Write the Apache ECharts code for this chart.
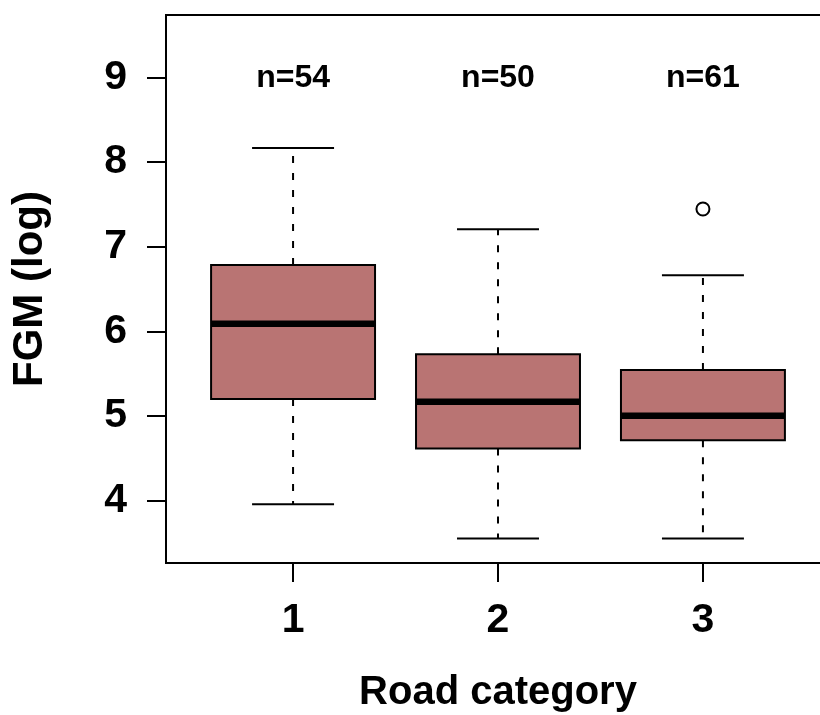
<!DOCTYPE html>
<html>
<head>
<meta charset="utf-8">
<script src="https://cdn.jsdelivr.net/npm/echarts@6/dist/echarts.min.js"></script>
<style>html,body{margin:0;padding:0;background:#fff}#main{width:820px;height:715px}</style>
</head>
<body>
<div id="main"></div>
<script>
// Data
const categories = [1, 2, 3];
const counts = [54, 50, 61];
const whiskerLow = [3.955, 3.549, 3.549];
const quartile1 = [5.198, 4.614, 4.712];
const medians = [6.089, 5.166, 5.000];
const quartile3 = [6.783, 5.727, 5.541];
const whiskerHigh = [8.168, 7.206, 6.662];
const outliers = [[3, 7.446]];
const yTicks = [4, 5, 6, 7, 8, 9];
const xTicks = [1, 2, 3];
const nLabelY = 9;

const FONT = "'Liberation Sans', Arial, Helvetica, sans-serif";
const boxData = categories.map((c, i) => [c, whiskerLow[i], quartile1[i], medians[i], quartile3[i], whiskerHigh[i]]);
const nData = categories.map((c, i) => [c, nLabelY, counts[i]]);

const chart = echarts.init(document.getElementById('main'), null, {renderer: 'canvas'});
chart.setOption({
  animation: false,
  backgroundColor: '#ffffff',
  grid: {left: 166, top: 15, width: 664, height: 548, show: true, borderColor: '#000', borderWidth: 2,
         backgroundColor: 'transparent', containLabel: false, outerBoundsMode: 'none'},
  xAxis: {
    type: 'value', min: 0.38, max: 3.62,
    name: 'Road category', nameLocation: 'middle', nameGap: 110,
    nameTextStyle: {fontFamily: FONT, fontSize: 40, fontWeight: 'bold', color: '#000'},
    axisLine: {show: true, onZero: false, lineStyle: {color: '#000', width: 2}},
    axisTick: {show: true, length: 19, lineStyle: {color: '#000', width: 2}, customValues: xTicks},
    axisLabel: {show: true, margin: 37, fontFamily: FONT, fontSize: 41, fontWeight: 'bold', color: '#000', customValues: xTicks},
    splitLine: {show: false}
  },
  yAxis: {
    type: 'value', min: 3.26, max: 9.74,
    name: 'FGM (log)', nameLocation: 'middle', nameGap: 115, nameRotate: 90,
    nameTextStyle: {fontFamily: FONT, fontSize: 42, fontWeight: 'bold', color: '#000'},
    axisLine: {show: true, onZero: false, lineStyle: {color: '#000', width: 2}},
    axisTick: {show: true, length: 19, lineStyle: {color: '#000', width: 2}, customValues: yTicks},
    axisLabel: {show: true, margin: 39, fontFamily: FONT, fontSize: 41, fontWeight: 'bold', color: '#000', customValues: yTicks},
    splitLine: {show: false}
  },
  series: [
    {
      type: 'custom',
      data: boxData,
      encode: {x: 0, y: [1, 2, 3, 4, 5]},
      renderItem: function (params, api) {
        const x = api.value(0);
        const cx = api.coord([x, 0])[0];
        const yMin = api.coord([x, api.value(1)])[1];
        const yQ1 = api.coord([x, api.value(2)])[1];
        const yMed = api.coord([x, api.value(3)])[1];
        const yQ3 = api.coord([x, api.value(4)])[1];
        const yMax = api.coord([x, api.value(5)])[1];
        const bl = api.coord([x - 0.4, 0])[0];
        const br = api.coord([x + 0.4, 0])[0];
        const cl = api.coord([x - 0.2, 0])[0];
        const cr = api.coord([x + 0.2, 0])[0];
        const dash = {stroke: '#000', lineWidth: 2, lineDash: [7, 10]};
        const solid = {stroke: '#000', lineWidth: 2};
        return {
          type: 'group',
          children: [
            {type: 'line', shape: {x1: cx, y1: yQ3, x2: cx, y2: yMax}, style: dash},
            {type: 'line', shape: {x1: cx, y1: yQ1, x2: cx, y2: yMin}, style: dash},
            {type: 'line', shape: {x1: cl, y1: yMax, x2: cr, y2: yMax}, style: solid},
            {type: 'line', shape: {x1: cl, y1: yMin, x2: cr, y2: yMin}, style: solid},
            {type: 'rect', shape: {x: bl, y: yQ3, width: br - bl, height: yQ1 - yQ3}, style: {fill: '#b97473', stroke: '#000', lineWidth: 2}},
            {type: 'line', shape: {x1: bl, y1: yMed, x2: br, y2: yMed}, style: {stroke: '#000', lineWidth: 6.5}}
          ]
        };
      }
    },
    {
      type: 'scatter',
      data: outliers,
      symbol: 'circle',
      symbolSize: 13,
      itemStyle: {color: '#fff', borderColor: '#000', borderWidth: 2, opacity: 1}
    },
    {
      type: 'custom',
      data: nData,
      encode: {x: 0, y: 1},
      renderItem: function (params, api) {
        const p = api.coord([api.value(0), api.value(1)]);
        return {
          type: 'text',
          style: {
            x: p[0], y: p[1] + 1, text: 'n=' + api.value(2),
            align: 'center', verticalAlign: 'middle',
            font: 'bold 32px ' + FONT, fill: '#000'
          }
        };
      }
    }
  ]
});
</script>
</body>
</html>
